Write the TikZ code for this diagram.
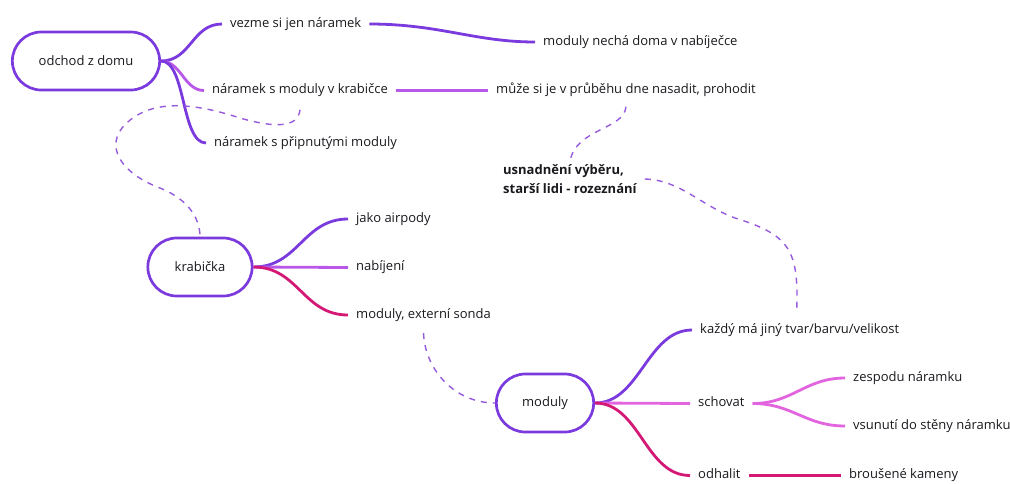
\documentclass[tikz,border=0pt]{standalone}
\usepackage{fontspec}
\setmainfont{Open Sans}
\usetikzlibrary{shapes.misc}
\definecolor{purp}{RGB}{122,58,222}
\definecolor{lilac}{RGB}{185,88,232}
\definecolor{pinkc}{RGB}{226,100,222}
\definecolor{crims}{RGB}{212,24,118}
\definecolor{dashc}{RGB}{150,90,220}
\definecolor{ink}{RGB}{25,25,30}
\begin{document}
\begin{tikzpicture}[x=1pt,y=-1pt,
  font=\fontsize{13}{15}\selectfont,
  hub/.style={rounded rectangle, draw=purp, line width=2.7pt, fill=white,
    minimum height=58pt, text=ink},
  lbl/.style={anchor=west, inner xsep=8pt, inner ysep=0pt,
    text height=9pt, text depth=3pt, text=ink},
  br/.style={line width=2.8pt, draw=#1},
  lnk/.style={draw=dashc, line width=1.4pt, dash pattern=on 6pt off 6pt}]
\useasboundingbox (0,0) rectangle (1010,483);

% central topics
\node[hub, minimum width=154pt] (odchod) at (86,61) {odchod z domu};
\node[hub, minimum width=111pt] (krab) at (200,267) {krabička};
\node[hub, minimum width=104pt] (mod) at (545,403) {moduly};

% leaves
\node[lbl] (vezme) at (222,24) {vezme si jen náramek};
\node[lbl] (necha) at (535,42) {moduly nechá doma v nabíječce};
\node[lbl] (krabicce) at (204,90.5) {náramek s moduly v krabičce};
\node[lbl] (moze) at (488,90.5) {může si je v průběhu dne nasadit, prohodit};
\node[lbl] (pripnute) at (206,143) {náramek s připnutými moduly};
\node[anchor=west, inner sep=0pt, align=left, text=ink,
  font=\fontsize{13}{18.5}\selectfont\bfseries] (usn) at (503,179)
  {usnadnění výběru,\\starší lidi - rozeznání};
\node[lbl] (jako) at (348,219) {jako airpody};
\node[lbl] (nabijeni) at (348,267.5) {nabíjení};
\node[lbl] (sonda) at (348,315) {moduly, externí sonda};
\node[lbl] (kazdy) at (692,330) {každý má jiný tvar/barvu/velikost};
\node[lbl] (schovat) at (690,403.5) {schovat};
\node[lbl] (zespodu) at (845,378) {zespodu náramku};
\node[lbl] (vsunuti) at (845,426) {vsunutí do stěny náramku};
\node[lbl] (odhalit) at (690,475.5) {odhalit};
\node[lbl] (brousene) at (841,475.5) {broušené kameny};

% branches of "odchod z domu"
\draw[br=purp] (odchod.east) .. controls +(30,0) and +(-30,0) .. (vezme.west);
\draw[br=purp] (vezme.east) .. controls +(70,0) and +(-60,0) .. (necha.west);
\draw[br=lilac] (odchod.east) .. controls +(20,0) and +(-20,0) .. (krabicce.west);
\draw[br=lilac] (krabicce.east) -- (moze.west);
\draw[br=purp] (odchod.east) .. controls +(25,0) and +(-25,0) .. (pripnute.west);

% branches of "krabička"
\draw[br=purp] (krab.east) .. controls +(45,0) and +(-45,0) .. (jako.west);
\draw[br=lilac] (krab.east) -- (nabijeni.west);
\draw[br=crims] (krab.east) .. controls +(45,0) and +(-45,0) .. (sonda.west);

% branches of "moduly"
\draw[br=purp] (mod.east) .. controls +(45,0) and +(-45,0) .. (kazdy.west);
\draw[br=pinkc] (mod.east) -- (schovat.west);
\draw[br=crims] (mod.east) .. controls +(45,0) and +(-45,0) .. (odhalit.west);
\draw[br=pinkc] (schovat.east) .. controls +(40,0) and +(-40,0) .. (zespodu.west);
\draw[br=pinkc] (schovat.east) .. controls +(40,0) and +(-40,0) .. (vsunuti.west);
\draw[br=crims] (odhalit.east) -- (brousene.west);

% dashed relations
\draw[lnk] ([yshift=-13pt]krabicce.south) .. controls (298,128) and (275,128) .. (240,118)
  .. controls (200,105) and (150,95) .. (122,128)
  .. controls (105,150) and (125,175) .. (160,188)
  .. controls (190,200) and (200,220) .. (krab.north);
\draw[lnk] ([yshift=-10pt]moze.south) .. controls (624,130) and (576,128) .. ([yshift=3pt]usn.north);
\draw[lnk] ([xshift=8pt]usn.east) .. controls (680,180) and (700,205) .. (735,218)
  .. controls (790,235) and (799,250) .. ([xshift=-3pt,yshift=12pt]kazdy.north);
\draw[lnk] ([yshift=-12pt]sonda.south) .. controls (425,370) and (455,403) .. (mod.west);
\end{tikzpicture}
\end{document}
